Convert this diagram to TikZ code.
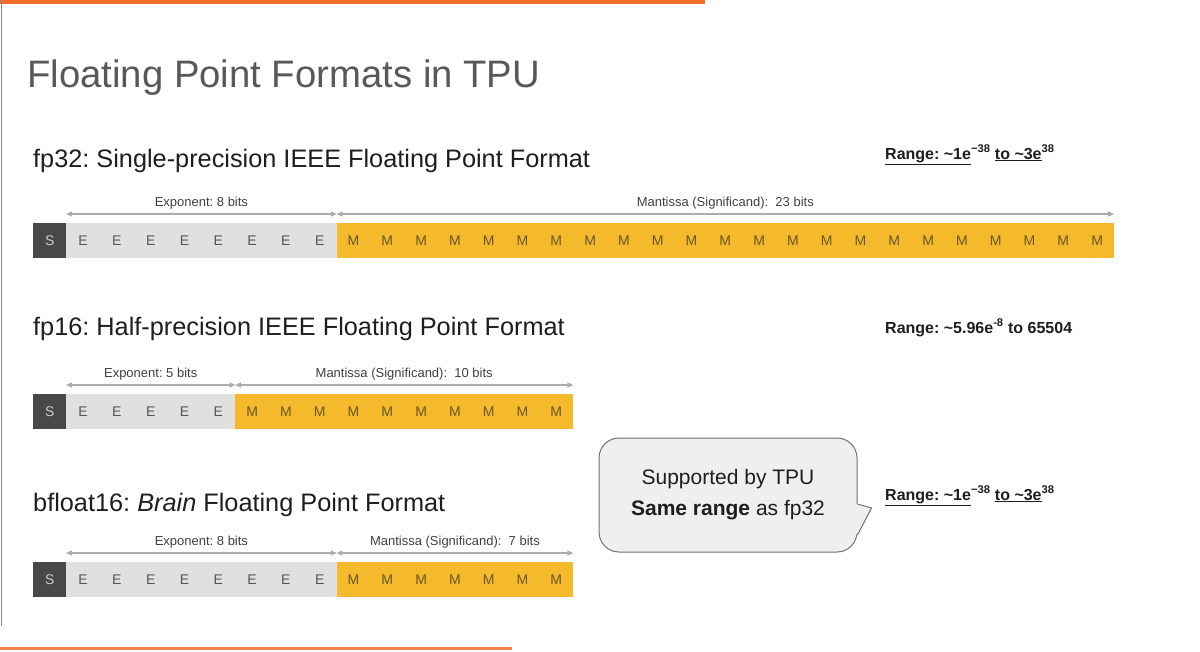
\documentclass[tikz,border=0pt]{standalone}
\usepackage{fontspec}
\setmainfont{Liberation Sans}
\usetikzlibrary{arrows.meta}
\frenchspacing
\definecolor{tpuorange}{RGB}{242,110,38}
\definecolor{tpuframe}{RGB}{138,138,128}
\definecolor{tputitle}{RGB}{88,88,88}
\definecolor{tputext}{RGB}{30,30,30}
\definecolor{tpusign}{RGB}{72,72,72}
\definecolor{tpusigntext}{RGB}{205,205,205}
\definecolor{tpuexp}{RGB}{224,224,224}
\definecolor{tpuexptext}{RGB}{85,85,85}
\definecolor{tpuman}{RGB}{245,186,44}
\definecolor{tpumantext}{RGB}{105,85,40}
\definecolor{tpuarrow}{RGB}{172,172,172}
\definecolor{tpuballoon}{RGB}{239,239,239}
\definecolor{tpuballoonline}{RGB}{112,112,112}

\tikzset{
    bit/.style={minimum width=33.8pt, minimum height=35pt, inner sep=0pt, anchor=north west,
        font=\fontsize{14}{14}\selectfont},
    sbit/.style={bit, fill=tpusign, text=tpusigntext},
    ebit/.style={bit, fill=tpuexp, text=tpuexptext},
    mbit/.style={bit, fill=tpuman, text=tpumantext},
    span/.style={draw=tpuarrow, line width=1.3pt, {Triangle[length=6pt,width=5pt]}-{Triangle[length=6pt,width=5pt]}},
    spanlabel/.style={above=4pt, inner sep=0pt, text=tputext!85, font=\fontsize{13}{13}\selectfont},
    heading/.style={anchor=base west, inner sep=0pt, text=tputext, font=\fontsize{25.3}{25.3}\selectfont},
    rangelabel/.style={anchor=base west, inner sep=0pt, text=tputext, font=\bfseries\fontsize{16}{16}\selectfont}
}

\begin{document}
\begin{tikzpicture}[x=1pt, y=-1pt]
    \useasboundingbox (0,0) rectangle (1200,651);
    % frame
    \fill[tpuorange] (0,0) rectangle (705,3.5);
    \fill[tpuframe] (0.5,0) rectangle (2,626);
    \fill[tpuorange!85] (0,647) rectangle (512,649.5);

    \node[anchor=base west, inner sep=0pt, text=tputitle, font=\fontsize{38.3}{38.3}\selectfont] (title) at (27,87) {Floating Point Formats in TPU};

    % fp32
    \node[heading] (fp32head) at (33,167) {fp32: Single-precision IEEE Floating Point Format};
    \node[rangelabel] (fp32range) at (885,159) {\underline{Range: \textasciitilde1e}\textsuperscript{−38} \underline{to \textasciitilde3e}\textsuperscript{38}};
    \node[sbit, minimum width=33pt] (s32) at (33,223) {S};
    \foreach \i in {1,...,8}
        \node[ebit] (e32-\i) at ({66+(\i-1)*33.8},223) {E};
    \foreach \i in {1,...,23}
        \node[mbit] (m32-\i) at ({336.4+(\i-1)*33.8},223) {M};
    \draw[span] ([yshift=9pt]e32-1.north west) -- node[spanlabel] (explab32) {Exponent: 8 bits} ([yshift=9pt]e32-8.north east);
    \draw[span] ([yshift=9pt]m32-1.north west) -- node[spanlabel] (manlab32) {Mantissa (Significand):~ 23 bits} ([yshift=9pt]m32-23.north east);

    % fp16
    \node[heading] (fp16head) at (33,335) {fp16: Half-precision IEEE Floating Point Format};
    \node[rangelabel] (fp16range) at (885,333) {Range: \textasciitilde5.96e\textsuperscript{-8} to 65504};
    \node[sbit, minimum width=33pt] (s16) at (33,394) {S};
    \foreach \i in {1,...,5}
        \node[ebit] (e16-\i) at ({66+(\i-1)*33.8},394) {E};
    \foreach \i in {1,...,10}
        \node[mbit] (m16-\i) at ({235+(\i-1)*33.8},394) {M};
    \draw[span] ([yshift=9pt]e16-1.north west) -- node[spanlabel] (explab16) {Exponent: 5 bits} ([yshift=9pt]e16-5.north east);
    \draw[span] ([yshift=9pt]m16-1.north west) -- node[spanlabel] (manlab16) {Mantissa (Significand):~ 10 bits} ([yshift=9pt]m16-10.north east);

    % bfloat16
    \node[heading] (bf16head) at (33,511) {bfloat16: \textit{Brain} Floating Point Format};
    \node[rangelabel] (bf16range) at (885,500) {\underline{Range: \textasciitilde1e}\textsuperscript{−38} \underline{to \textasciitilde3e}\textsuperscript{38}};
    \node[sbit, minimum width=33pt] (sbf) at (33,562) {S};
    \foreach \i in {1,...,8}
        \node[ebit] (ebf-\i) at ({66+(\i-1)*33.8},562) {E};
    \foreach \i in {1,...,7}
        \node[mbit] (mbf-\i) at ({336.4+(\i-1)*33.8},562) {M};
    \draw[span] ([yshift=9pt]ebf-1.north west) -- node[spanlabel] (explabbf) {Exponent: 8 bits} ([yshift=9pt]ebf-8.north east);
    \draw[span] ([yshift=9pt]mbf-1.north west) -- node[spanlabel] (manlabbf) {Mantissa (Significand):~ 7 bits} ([yshift=9pt]mbf-7.north east);

    % callout
    \node[draw=tpuballoonline, fill=tpuballoon, line width=1pt, rounded corners=20pt,
        minimum width=258pt, minimum height=114pt, align=center, text=tputext,
        font=\fontsize{21}{31}\selectfont] (note) at (728,495) {Supported by TPU\\\textbf{Same range} as fp32};
    \fill[tpuballoon] ([xshift=-1.5pt,yshift=-9pt]note.east) -- ([xshift=14pt,yshift=-13pt]note.east) -- ([xshift=-1.5pt,yshift=-40pt]note.east) -- cycle;
    \draw[tpuballoonline, line width=1pt, line join=round] ([yshift=-9pt]note.east) -- ([xshift=14pt,yshift=-13pt]note.east) -- ([yshift=-40pt]note.east);
\end{tikzpicture}
\end{document}
